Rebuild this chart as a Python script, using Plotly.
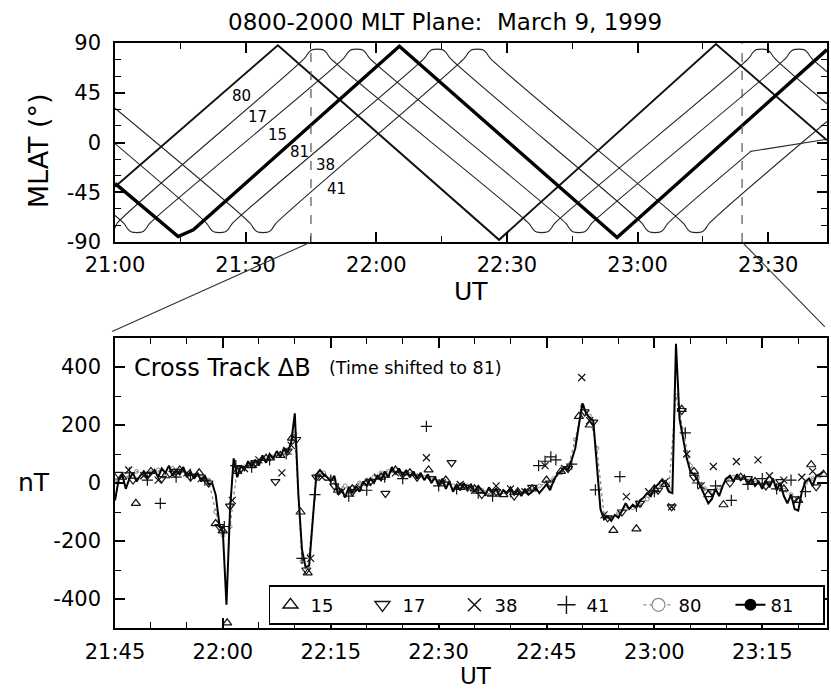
import numpy as np
import pandas as pd
import plotly.graph_objects as go

DAY = "1999-03-09"
TOP_START = pd.Timestamp(f"{DAY} 21:00")
TOP_END = pd.Timestamp(f"{DAY} 23:43:30")
ZOOM_START = pd.Timestamp(f"{DAY} 21:45")
ZOOM_END = pd.Timestamp(f"{DAY} 23:24")

FONT = "DejaVu Sans"

# ---------------------------------------------------------------- orbit tracks
# vertices of each satellite ground track: minutes after 21:00 UT, MLAT (deg)
trk80_min = [0, 37.4, 88.2, 138, 163.5]
trk80_lat = [-40, 88, -88, 89, 2]

trk81_min = [0, 14.5, 18, 65.3, 115.3, 163.5]
trk81_lat = [-37, -85, -79, 87, -86, 84]

trk15_min = [0, 2, 3, 3.8, 6.2, 7, 8, 52.5, 53.5, 54.3, 56.7, 57.5, 58.5,
             103.5, 104.5, 105.3, 107.7, 108.5, 109.5, 154, 155, 155.8, 158.2,
             159, 160, 163.5]
trk15_lat = [-66, -73, -78.5, -81, -81, -78.5, -73, 76, 81.5, 84, 84, 81.5, 76,
             -73, -78.5, -81, -81, -78.5, -73, 76, 81.5, 84, 84, 81.5, 76, 64]

trk17_min = [0, 0.5, 43.5, 44.5, 45.3, 47.7, 48.5, 49.5, 95, 96, 96.8, 99.2,
             100, 101, 145.5, 146.5, 147.3, 149.7, 150.5, 151.5, 163.5]
trk17_lat = [-77.5, -73, 76, 81.5, 84, 84, 81.5, 76, -73, -78.5, -81, -81,
             -78.5, -73, 76, 81.5, 84, 84, 81.5, 76, 35]

trk38_min = [0, 21, 22, 22.8, 25.2, 26, 27, 71, 72, 72.8, 75.2, 76, 77,
             121, 122, 122.8, 125.2, 126, 127, 145.6, 146, 146.5, 163.5]
trk38_lat = [-1, -73, -78.5, -81, -81, -78.5, -73, 76, 81.5, 84, 84, 81.5, 76,
             -73, -78.5, -81, -81, -78.5, -73, -9.4, -8, -7.7, 3]

trk41_min = [0, 31, 32, 32.8, 35.2, 36, 37, 80.2, 81.2, 82, 84.4, 85.2, 86.2,
             130.5, 131.5, 132.3, 134.7, 135.5, 136.5, 163.5]
trk41_lat = [31, -73, -78.5, -81, -81, -78.5, -73, 76, 81.5, 84, 84, 81.5, 76,
             -73, -78.5, -81, -81, -78.5, -73, 19]

# satellite labels on the ascending passes (minutes after 21:00, MLAT)
lbl_names = ["80", "17", "15", "81", "38", "41"]
lbl_min = [29.0, 32.8, 37.4, 42.4, 48.3, 50.8]
lbl_lat = [41.7, 23.1, 7.2, -8.7, -20.7, -41.6]

# axis tick labels (plain hyphen for negatives)
mlat_ticks = [-90, -45, 0, 45, 90]
mlat_text = ["-90", "-45", "0", "45", "90"]
nt_ticks = [-400, -200, 0, 200, 400]
nt_text = ["-400", "-200", "0", "200", "400"]

# ---------------------------------------------------------- cross-track dB (nT)
# satellite 81: one sample every 30 s from 21:45 UT
dB81 = [
    -60, 10, 30, -20, 15, 35, 5, 25, 40, 15,
    30, 45, 20, 50, 35, 60, 25, 45, 30, 55,
    20, 40, 15, 35, 5, 25, -5, 0, -40, -140,
    -170, -420, -90, 85, 20, 60, 45, 75, 55, 80,
    60, 95, 70, 100, 85, 110, 90, 120, 105, 140,
    240, -40, -230, -290, -285, -120, 30, 45, 30, 20,
    5, 25, -40, -20, -50, -15, -35, -10, -30, 5,
    -10, 15, 0, 25, 10, 40, 20, 55, 30, 50,
    25, 45, 20, 40, 15, 35, 10, 30, 0, 20,
    -10, 15, -20, 5, -30, -5, -25, 0, -20, -5,
    -30, -10, -25, -40, -15, -35, -20, -45, -25, -35,
    -15, -40, -25, -45, -20, -40, -30, -15, -35, -20,
    -5, -25, 10, 30, 40, 55, 45, 80, 120, 200,
    275, 240, 225, 215, 70, -90, -125, -115, -130, -110,
    -120, -95, -70, -90, -75, -85, -60, -50, -35, -45,
    -15, -5, 10, 0, -30, -35, 480, 220, 150, 85,
    40, 30, 10, -15, -40, -70, -55, -20, -45, -10,
    15, 25, 5, 30, 10, 25, -5, 15, -10, 5,
    -20, 10, -15, 15, -25, 0, -45, -70, -40, -90,
    -95, -30, 5, 15, -10, 25, 30, 40,
]

# satellite 80: one sample every 60 s from 21:45 UT
dB80 = [
    10, 25, 20, 40, 30, 35, 45, 30, 50, 40,
    30, 25, 20, 10, -100, -180, -150, 50, 55, 65,
    75, 80, 90, 100, 115, 170, -270, -250, 25, 35,
    15, -20, -10, -15, 0, 10, 20, 35, 40, 45,
    30, 30, 25, 20, 15, 5, 0, -10, -15, -10,
    -20, -25, -30, -25, -30, -25, -35, -30, -20, -10,
    0, 15, 35, 55, 150, 265, 230, 120, -110, -120,
    -105, -90, -85, -75, -55, -30, -10, -20, 300, 180,
    60, 20, -20, -30, -15, 10, 20, 15, 5, 0,
    -5, 0, -10, -25, -40, -60, 0, 15, 25,
]

# sparser satellites: minutes after 21:45 UT (shifted to 81) and dB (nT)
s15_min = [1, 2.9, 5, 7, 9, 11.7, 14, 15, 15.6, 17, 19, 21, 23, 24.6, 25.8,
           26.8, 28.5, 31, 33, 35, 37, 39, 41, 43.6, 46, 48, 50, 52, 54, 56,
           58, 60, 62, 64.5, 66, 69.3, 72.5, 75, 76.5, 78.8, 80.5, 82.5, 84.6,
           87, 89, 91, 93, 95, 96.8, 98.5]
s15_dB = [20, -70, 40, 25, 45, 35, -140, -165, -482, 40, 60, 85, 95, 155, -100,
          -310, 30, -25, -20, 0, 20, 45, 35, 45, 10, -15, -20, -35, -40, -30,
          -20, 10, 40, 230, 200, -163, -158, -20, -5, 254, 40, -40, -75,
          20, 5, 10, -20, -60, 63, 30]

s17_min = [0.5, 2.5, 4.5, 6.5, 8.5, 10.5, 13, 14.5, 16, 17.5, 19.5, 22.3, 24,
           25.2, 26.6, 28, 30.5, 33, 35.5, 37.6, 40, 42, 44, 46.8, 49, 51, 53,
           55.5, 58, 60.5, 63, 65.3, 66.5, 68.5, 70.5, 73, 75.5, 77.4, 78.8,
           80.5, 83, 85.5, 88, 90.5, 92.5, 94.5, 97.5]
s17_dB = [30, 10, 30, 15, 40, 20, 0, -150, -80, 50, 70, 5, 110,
          150, -300, 20, -10, -30, 5, -36, 30, 20, 15, 70, -15, -40, -30,
          -45, -15, 0, 50, 245, 210, -120, -100, -70, -25, -82, 250,
          20, -30, 0, 15, -10, 5, -55, -13]

s38_min = [1.9, 4, 6, 8, 10, 12, 14.8, 16.3, 18, 20, 23.2, 24.5, 27.2, 28.8,
           31.5, 34, 36.5, 39, 43.3, 45.5, 48, 50, 53, 55, 57, 59.8, 62.5,
           64.9, 66, 68, 71.1, 74.2, 76.5, 77.4, 79.5, 81.5, 83.2, 86.4, 89.4,
           91, 93, 95.5, 97]
s38_dB = [45, 25, 10, 30, 35, 15, -160, -60, 50, 80, 35, 130, -260, 20,
          -30, -15, 20, 35, 87, 0, -5, -25, -10, -20, -30, 60, 50,
          364, 215, -110, -47, -30, 5, -82, 100, -10, 57, 74, 80,
          25, 10, 20, 40]

s41_min = [2, 4.5, 6.3, 8.5, 10.5, 12.5, 15.2, 16.8, 19, 21.5, 23.8, 26, 27.8,
           30, 32.5, 35, 37.5, 40, 43.3, 45, 47.5, 50.5, 52.5, 55, 58.9, 59.8,
           60.6, 61.3, 63.5, 66.8, 70.2, 72.5, 75, 79.3, 81, 83.5, 85.7, 88,
           90, 92, 94, 96]
s41_dB = [35, 10, -70, 20, 30, 10, -150, 60, 55, 80, 100, -260, -40,
          10, -45, -25, 20, 15, 195, -10, -20, -35, -45, -30, 60, 75,
          90, 80, 65, -24, 22, -80, -30, 173, 0, -10, -60, -5,
          15, -20, 10, -30]


def top_time(minutes):
    return TOP_START + pd.to_timedelta(np.asarray(minutes, dtype=float), unit="min")


def zoom_time(minutes):
    return ZOOM_START + pd.to_timedelta(np.asarray(minutes, dtype=float), unit="min")


fig = go.Figure()

# ---- top panel: ground tracks
thin = dict(color="#262626", width=1.1, shape="spline", smoothing=0.8)
for t, lat in [(trk15_min, trk15_lat), (trk17_min, trk17_lat),
               (trk38_min, trk38_lat), (trk41_min, trk41_lat)]:
    fig.add_trace(go.Scatter(x=top_time(t), y=lat, mode="lines", line=thin,
                             showlegend=False, xaxis="x", yaxis="y"))
fig.add_trace(go.Scatter(x=top_time(trk80_min), y=trk80_lat, mode="lines",
                         line=dict(color="#111", width=2.0), showlegend=False,
                         xaxis="x", yaxis="y"))
fig.add_trace(go.Scatter(x=top_time(trk81_min), y=trk81_lat, mode="lines",
                         line=dict(color="#000", width=3.4), showlegend=False,
                         xaxis="x", yaxis="y"))

# ---- bottom panel: cross-track magnetic perturbation
t81 = zoom_time(np.arange(len(dB81)) * 0.5)
t80 = zoom_time(np.arange(len(dB80)) * 1.0)

fig.add_trace(go.Scatter(x=t80, y=dB80, mode="lines+markers",
                         line=dict(color="#8a8a8a", width=1.3, dash="dot"),
                         marker=dict(symbol="circle-open", size=4, color="#8a8a8a"),
                         showlegend=False, xaxis="x2", yaxis="y2"))
fig.add_trace(go.Scatter(x=t81, y=dB81, mode="lines",
                         line=dict(color="#000", width=2.0),
                         showlegend=False, xaxis="x2", yaxis="y2"))

marker_sets = [
    ("15", s15_min, s15_dB, "triangle-up-open", 8),
    ("17", s17_min, s17_dB, "triangle-down-open", 8),
    ("38", s38_min, s38_dB, "x-thin-open", 7),
    ("41", s41_min, s41_dB, "cross-thin-open", 8),
]
for name, tm, vals, sym, size in marker_sets:
    fig.add_trace(go.Scatter(x=zoom_time(tm), y=vals, mode="markers",
                             marker=dict(symbol=sym, size=size, color="#111",
                                         line=dict(width=1.2, color="#111")),
                             showlegend=False, xaxis="x2", yaxis="y2"))

# legend entries
for name, tm, vals, sym, size in marker_sets:
    fig.add_trace(go.Scatter(x=[None], y=[None], mode="markers", name=name,
                             marker=dict(symbol=sym, size=13, color="#111",
                                         line=dict(width=1.4, color="#111")),
                             xaxis="x2", yaxis="y2"))
fig.add_trace(go.Scatter(x=[None], y=[None], mode="lines+markers", name="80",
                         line=dict(color="#8a8a8a", width=1.3, dash="dot"),
                         marker=dict(symbol="circle", size=13, color="white",
                                     line=dict(width=1.2, color="#8a8a8a")),
                         xaxis="x2", yaxis="y2"))
fig.add_trace(go.Scatter(x=[None], y=[None], mode="lines+markers", name="81",
                         line=dict(color="#000", width=2),
                         marker=dict(symbol="circle", size=12, color="#000"),
                         xaxis="x2", yaxis="y2"))

# ---- layout
TOP_DOM = [0.6598, 1.0]
BOT_DOM = [0.0, 0.4957]

axis_common = dict(showline=True, linecolor="black", linewidth=1.6,
                   mirror="allticks", ticks="inside", ticklen=10, tickwidth=1.5,
                   tickcolor="black", showgrid=False, zeroline=False,
                   layer="above traces",
                   tickfont=dict(family=FONT, size=21, color="black"))

fig.update_layout(
    width=831, height=691,
    margin=dict(l=115, r=2, t=43, b=63),
    paper_bgcolor="white", plot_bgcolor="white",
    font=dict(family=FONT, color="black"),
    xaxis=dict(axis_common, domain=[0, 1], anchor="y", type="date",
               range=[TOP_START, TOP_END], tickformat="%H:%M",
               tick0=TOP_START, dtick=30 * 60 * 1000, ticklabelstandoff=3,
               minor=dict(dtick=15 * 60 * 1000, ticklen=6, ticks="inside",
                          tickcolor="black", tickwidth=1.3)),
    yaxis=dict(axis_common, domain=TOP_DOM, anchor="x", range=[-90, 90],
               tickvals=mlat_ticks, ticktext=mlat_text, ticklabelstandoff=8,
               minor=dict(tickvals=[-75, -60, -30, -15, 15, 30, 60, 75],
                          ticklen=6, ticks="inside", tickcolor="black",
                          tickwidth=1.3)),
    xaxis2=dict(axis_common, domain=[0, 1], anchor="y2", type="date",
                range=[ZOOM_START, ZOOM_END], tickformat="%H:%M",
                tick0=ZOOM_START, dtick=15 * 60 * 1000, ticklabelstandoff=4,
                minor=dict(dtick=5 * 60 * 1000, ticklen=6, ticks="inside",
                           tickcolor="black", tickwidth=1.3)),
    yaxis2=dict(axis_common, domain=BOT_DOM, anchor="x2", range=[-500, 500],
                tickvals=nt_ticks, ticktext=nt_text, ticklabelstandoff=8,
                minor=dict(tickvals=[-300, -100, 100, 300], ticklen=6,
                           ticks="inside", tickcolor="black", tickwidth=1.3)),
    legend=dict(orientation="h", x=0.997, xanchor="right", y=0.0735,
                yanchor="top", bordercolor="black", borderwidth=1.6,
                bgcolor="white", font=dict(family=FONT, size=18, color="black"),
                entrywidth=47, itemwidth=30, tracegroupgap=0),
)

# dashed markers of the expanded interval, and the connector lines
top_span = (TOP_END - TOP_START).total_seconds()
for ts in (ZOOM_START, ZOOM_END):
    fig.add_shape(type="line", xref="x", yref="y domain", x0=ts, x1=ts, y0=0, y1=1,
                  line=dict(color="#555", width=1.2, dash="dash"))
frac_l = (ZOOM_START - TOP_START).total_seconds() / top_span
frac_r = (ZOOM_END - TOP_START).total_seconds() / top_span
fig.add_shape(type="line", xref="paper", yref="paper", x0=frac_l, y0=TOP_DOM[0],
              x1=-0.004, y1=BOT_DOM[1] + 0.011, line=dict(color="#333", width=1.1))
fig.add_shape(type="line", xref="paper", yref="paper", x0=frac_r, y0=TOP_DOM[0],
              x1=0.997, y1=BOT_DOM[1] + 0.019, line=dict(color="#333", width=1.1))


def note(text, x, y, size, **kw):
    d = dict(text=text, x=x, y=y, xref="paper", yref="paper", showarrow=False,
             xanchor="center", yanchor="middle", font=dict(family=FONT, size=size))
    d.update(kw)
    return d


annotations = [
    note("0800-2000 MLT Plane:  March 9, 1999", 0.4636, 1.036, 23),
    note("UT", 0.5, 0.5744, 25),
    note("MLAT (°)", -0.108, 0.815, 27, textangle=-90),
    note("nT", -0.1134, 0.2479, 25),
    note("UT", 0.507, -0.0825, 23),
    note("Cross Track ΔB", 0.0238, 0.444, 24, xanchor="left"),
    note("(Time shifted to 81)", 0.2983, 0.444, 17.5, xanchor="left"),
]
for name, tm, lat in zip(lbl_names, lbl_min, lbl_lat):
    annotations.append(dict(text=name, x=top_time([tm])[0], y=lat, xref="x",
                            yref="y", showarrow=False, yanchor="middle",
                            font=dict(family=FONT, size=15)))
fig.update_layout(annotations=annotations)

fig.write_html("out.html")
